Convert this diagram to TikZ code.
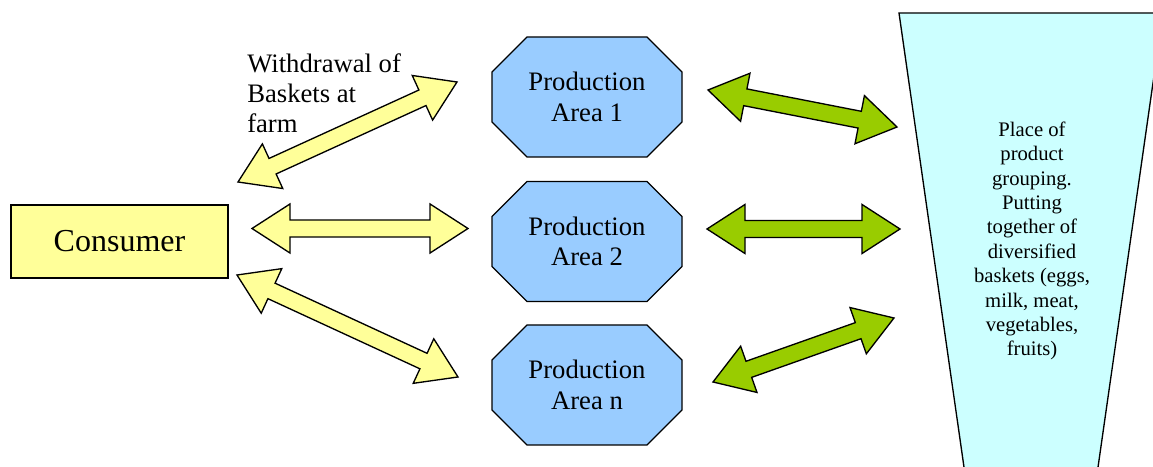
\documentclass[tikz,border=0pt]{standalone}
\usepackage{fontspec}
\setmainfont{Liberation Serif}
\usetikzlibrary{calc}

\definecolor{consumeryellow}{HTML}{FFFF99}
\definecolor{arrowgreen}{HTML}{99CC00}
\definecolor{areablue}{HTML}{99CCFF}
\definecolor{groupcyan}{HTML}{CCFFFF}

\tikzset{
	consumerbox/.style={draw, line width=1pt, fill=consumeryellow, minimum width=162.75pt, minimum height=54.75pt, font=\fontsize{24}{28}\selectfont},
	areaoct/.style={draw, line width=1pt, fill=areablue, line join=miter},
	areatext/.style={align=center, inner sep=0pt, font=\fontsize{20}{23}\selectfont},
	arrowbox/.style={draw, line width=1pt, line join=miter}
}

% octagon of a production area round a centre
\newcommand{\areaoutline}[1]{%
	\draw[areaoct] (#1) ++(-95,25) -- ++(35,35) -- ++(120,0) -- ++(35,-35) -- ++(0,-50) -- ++(-35,-35) -- ++(-120,0) -- ++(-35,35) -- cycle;
}

% block arrow with two heads: fill, from, to
\newcommand{\blockarrow}[3]{%
	\draw[arrowbox, fill=#1] let \p1=(#2), \p2=(#3), \n1={atan2(\y2-\y1,\x2-\x1)}, \n2={veclen(\x2-\x1,\y2-\y1)} in
		[shift={(\p1)}, rotate=\n1]
		(0pt,0pt) -- (28.5pt,18.4pt) -- (28.5pt,6.4pt) -- ({\n2-28.5pt},6.4pt) -- ({\n2-28.5pt},18.4pt) -- ({\n2+0pt},0pt)
		-- ({\n2-28.5pt},-18.4pt) -- ({\n2-28.5pt},-6.4pt) -- (28.5pt,-6.4pt) -- (28.5pt,-18.4pt) -- cycle;
}

\begin{document}
\begin{tikzpicture}[x=0.75pt,y=0.75pt]
		\clip (0,0) rectangle (1153,467);
		
		\draw[line width=1pt, fill=groupcyan] (899,454) -- (1163,454) -- (1096.6,-10) -- (965.4,-10) -- cycle;
		\node[align=center, font=\fontsize{15.5}{18.3}\selectfont] (grouping) at (1032,226)
			{Place of\\product\\grouping.\\Putting\\together of\\diversified\\baskets (eggs,\\milk, meat,\\vegetables,\\fruits)};
		
		\node[consumerbox] (consumer) at (119.5,225.5) {Consumer};
		
		\coordinate (c1) at (587,370);
		\coordinate (c2) at (587,225.5);
		\coordinate (cn) at (587,82);
		\areaoutline{c1}
		\areaoutline{c2}
		\areaoutline{cn}
		\node[areatext] (area1) at (c1) {Production\\Area 1};
		\node[areatext] (area2) at (c2) {Production\\Area 2};
		\node[areatext] (arean) at (cn) {Production\\Area n};
		
		\node[anchor=north west, inner sep=0pt, align=left, font=\fontsize{20}{22.5}\selectfont] (withdrawal) at (247,414) {Withdrawal of\\Baskets at\\farm};
		
		\coordinate (y1a) at (238,285);
		\coordinate (y1b) at (457,385);
		\coordinate (y2a) at (252,238.5);
		\coordinate (y2b) at (468,238.5);
		\coordinate (y3a) at (237,192);
		\coordinate (y3b) at (458,90);
		\coordinate (g1a) at (708,377);
		\coordinate (g1b) at (897,340);
		\coordinate (g2a) at (707,238);
		\coordinate (g2b) at (900,238);
		\coordinate (g3a) at (713,85);
		\coordinate (g3b) at (894,149);
		
		\blockarrow{consumeryellow}{y1a}{y1b}
		\blockarrow{consumeryellow}{y2a}{y2b}
		\blockarrow{consumeryellow}{y3a}{y3b}
		\blockarrow{arrowgreen}{g1a}{g1b}
		\blockarrow{arrowgreen}{g2a}{g2b}
		\blockarrow{arrowgreen}{g3a}{g3b}
	\end{tikzpicture}
\end{document}
